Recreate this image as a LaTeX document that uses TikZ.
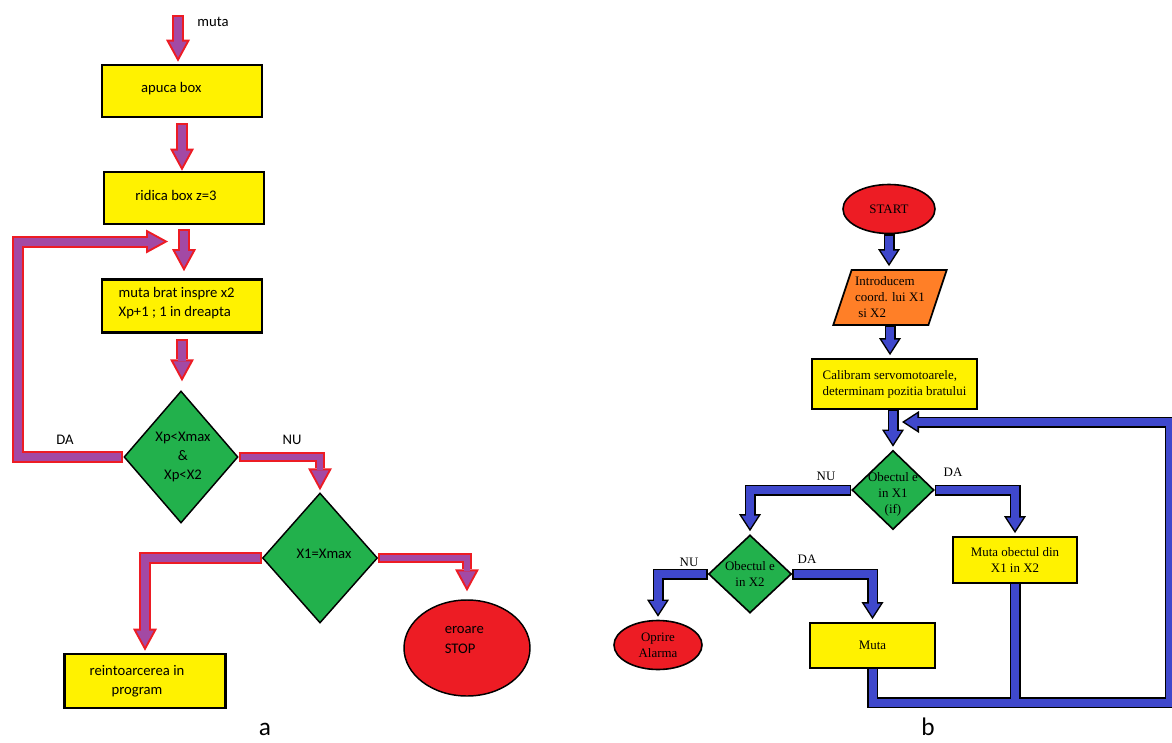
\documentclass[tikz,border=0pt]{standalone}
\usepackage{fontspec}
\setmainfont{Carlito}
\newfontfamily\tms{Liberation Serif}
\usetikzlibrary{shapes.geometric,arrows.meta,calc}

\definecolor{galben}{HTML}{FFF200}
\definecolor{verde}{HTML}{22B14C}
\definecolor{rosu}{HTML}{ED1C24}
\definecolor{mov}{HTML}{A349A4}
\definecolor{albastru}{HTML}{3F48CC}
\definecolor{portocaliu}{HTML}{FF7F27}

% fat arrow: outline pass, then filling pass
\newcommand{\sageata}[3]{\draw[#1] #3; \draw[#2] #3;}

\tikzset{
  scrisA/.style={font=\fontsize{11}{14.4}\selectfont, align=center, inner sep=0pt},
  scrisB/.style={font=\tms\fontsize{9.7}{12}\selectfont, align=center, inner sep=0pt},
  cutie/.style={draw=black, line width=1.9pt, fill=galben, inner sep=0pt},
  romb/.style={diamond, draw=black, line width=1.1pt, fill=verde, inner sep=0pt},
  ovalA/.style={ellipse, draw=black, line width=1.1pt, fill=rosu, inner sep=0pt},
  cutieB/.style={draw=black, line width=1.3pt, fill=galben, inner sep=0pt},
  rombB/.style={diamond, draw=black, line width=1.2pt, fill=verde, inner sep=0pt},
  ovalB/.style={ellipse, draw=black, line width=1.2pt, fill=rosu, inner sep=0pt},
  movE/.style={draw=rosu, line width=9pt, shorten >=1.5pt,
    -{Triangle[length=16.5pt, width=18pt, line width=0pt]}},
  movI/.style={draw=mov, line width=6pt, shorten >=4.65pt, shorten <=1.5pt,
    -{Triangle[length=11.85pt, width=12.9pt, line width=0pt]}},
  albE/.style={draw=black, line width=8.25pt, shorten >=2.25pt,
    -{Triangle[length=12.75pt, width=16.5pt, line width=0pt]}},
  albI/.style={draw=albastru, line width=6pt, shorten >=4.3pt, shorten <=1.1pt,
    -{Triangle[length=9.55pt, width=12.4pt, line width=0pt]}},
}

\begin{document}
\begin{tikzpicture}[x=0.75pt, y=-0.75pt]
    \useasboundingbox (0,0) rectangle (1172,743);

    % ---- a ----
    \coordinate (sus) at (178,15);
    \node[cutie, minimum width=120pt, minimum height=39pt,
          label={[scrisA, xshift=-8pt, yshift=2pt]center:apuca box}] (apuca) at (182,91) {};
    \node[cutie, minimum width=120pt, minimum height=39pt,
          label={[scrisA, xshift=-6pt, yshift=2pt]center:ridica box z=3}] (ridica) at (184,198) {};
    \node[cutie, minimum width=120pt, minimum height=39.75pt,
          label={[scrisA, align=left, xshift=-4pt, yshift=2pt]center:muta brat inspre x2\\Xp+1 ; 1 in dreapta}] (brat) at (182,306) {};
    \node[romb, minimum width=85.5pt, minimum height=99pt,
          label={[scrisA, xshift=1.5pt]center:Xp<Xmax\\\&\\Xp<X2}] (d1) at (181,457) {};
    \node[romb, minimum width=86.25pt, minimum height=97.5pt,
          label={[scrisA, xshift=3pt, yshift=3pt]center:X1=Xmax}] (d2) at (320,558) {};
    \node[cutie, minimum width=120.75pt, minimum height=40.5pt,
          label={[scrisA, xshift=-6pt]center:reintoarcerea in\\program}] (reint) at (145,681) {};
    \node[ovalA, minimum width=94.5pt, minimum height=72pt,
          label={[scrisA, align=left, xshift=-2pt, yshift=6pt]center:eroare\\STOP}] (eroare) at (467,648) {};
    \coordinate (bucla) at (17.5,241.5);
    \coordinate (intrare) at (170,241.5);

    \sageata{movE}{movI}{(sus) -- (sus |- apuca.north)}
    \sageata{movE, shorten <=3.75pt, shorten >=0pt}{movI, shorten <=5.25pt, shorten >=3.15pt}{(apuca.south) -- (apuca.south |- ridica.north)}
    \sageata{movE, shorten <=3pt, shorten >=5.25pt}{movI, shorten <=4.5pt, shorten >=8.4pt}{(ridica.south) -- (ridica.south |- brat.north)}
    \sageata{movE, shorten <=3.75pt, shorten >=6.75pt}{movI, shorten <=5.25pt, shorten >=9.9pt}{(brat.south) -- (brat.south |- d1.north)}
    \sageata{movE}{movI}{(d1.west) -| (bucla) -- (intrare)}
    \sageata{movE, line width=7.5pt}{movI, line width=4.5pt}{(d1.east) -| (d2.north)}
    \sageata{movE}{movI}{(d2.west) -| (reint.north)}
    \sageata{movE, line width=7.5pt, shorten >=6pt}{movI, line width=4.5pt, shorten >=9.15pt}{(d2.east) -| (eroare.north)}

    % Below nodes are the labels.
        \node[scrisA] (lmuta) at (213,22) {muta};
        \node[scrisA] (lda1) at (65,440) {DA};
        \node[scrisA] (lnu1) at (292,440) {NU};
        \node[scrisA, font=\fontsize{19}{23}\selectfont] (la) at (265,729) {a};

    % ---- b ----
    \node[ovalB, scrisB, minimum width=69pt, minimum height=36.75pt] (start) at (889,209) {START};
    \node[trapezium, trapezium left angle=68, trapezium right angle=112, trapezium stretches=true,
          draw=black, line width=1.3pt, fill=portocaliu, inner sep=0pt, scrisB, align=left,
          minimum width=85.5pt, minimum height=41.25pt] (intro) at (890,297.5) {Introducem\\coord. lui X1\\\ si X2};
    \node[cutieB, scrisB, align=left, minimum width=123.75pt, minimum height=37.5pt] (calib) at (894.5,384) {Calibram servomotoarele,\\determinam pozitia bratului};
    \node[rombB, minimum width=61.5pt, minimum height=59.25pt,
          label={[scrisB, yshift=-3pt]center:Obectul e\\in X1\\(if)}] (d3) at (893,490) {};
    \node[cutieB, scrisB, minimum width=93pt, minimum height=34.5pt] (mutaob) at (1015,560) {Muta obectul din\\X1 in X2};
    \node[rombB, minimum width=62.25pt, minimum height=58.5pt,
          label={[scrisB]center:Obectul e\\in X2}] (d4) at (750,574) {};
    \node[ovalB, scrisB, minimum width=66pt, minimum height=36.75pt] (oprire) at (658,645) {Oprire\\Alarma};
    \node[cutieB, scrisB, minimum width=93.75pt, minimum height=33.75pt] (muta) at (872.5,645.5) {Muta};
    \coordinate (colt) at (1170,702.5);
    \coordinate (intra) at (899,422);

    \sageata{albE}{albI}{(start.south) -- (start.south |- intro.north)}
    \sageata{albE}{albI}{(intro.south) -- (intro.south |- calib.north)}
    \sageata{albE}{albI}{(calib.south -| d3.north) -- (d3.north)}
    \sageata{albE}{albI}{(d3.west) -| (d4.north)}
    \sageata{albE}{albI}{(d3.east) -| (mutaob.north)}
    \sageata{albE}{albI}{(d4.west) -| (oprire.north)}
    \sageata{albE}{albI}{(d4.east) -| (muta.north)}
    % return loop
    \draw[albE, shorten <=0pt] (muta.south) |- (colt) |- (intra);
    \draw[albE, -, shorten >=0pt] (mutaob.south) -- (mutaob.south |- colt);
    \draw[albI, shorten <=0pt] (muta.south) |- (colt) |- (intra);
    \draw[albI, -, shorten >=0pt, shorten <=0pt] (mutaob.south) -- (mutaob.south |- colt);

    % Below nodes are the labels.
        \node[scrisB] (lnu2) at (826,476) {NU};
        \node[scrisB] (lda2) at (953,472) {DA};
        \node[scrisB] (lnu3) at (689,562) {NU};
        \node[scrisB] (lda3) at (807,559) {DA};
        \node[scrisA, font=\fontsize{19}{23}\selectfont] (lb) at (928,727) {b};
\end{tikzpicture}
\end{document}
